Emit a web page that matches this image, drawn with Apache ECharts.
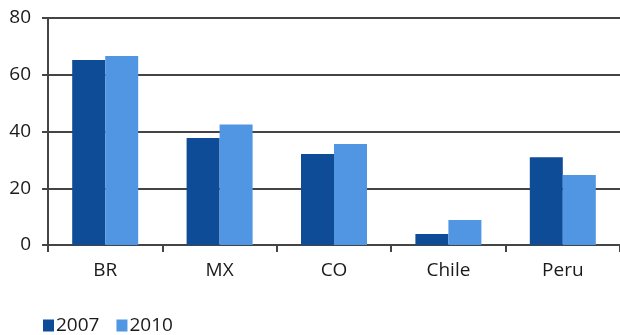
<!DOCTYPE html>
<html>
<head>
<meta charset="utf-8">
<script src="https://cdn.jsdelivr.net/npm/echarts@6/dist/echarts.min.js"></script>
<style>html,body{margin:0;padding:0;background:#fff}#c{width:620px;height:335px}</style>
</head>
<body>
<div id="c"></div>
<script>
var categories = ['BR', 'MX', 'CO', 'Chile', 'Peru'];
var values2007 = [65.2, 37.7, 32.1, 3.9, 30.9];
var values2010 = [66.6, 42.5, 35.6, 8.8, 24.7];
var seriesNames = ['2007', '2010'];
var yTicks = [0, 20, 40, 60, 80];

var FONT = 'Open Sans';
var chart = echarts.init(document.getElementById('c'), null, {renderer: 'canvas'});
chart.setOption({
  animation: false,
  textStyle: {fontFamily: FONT},
  grid: {left: 48, top: 18, right: -2, bottom: 90, containLabel: false},
  legend: {
    data: seriesNames,
    left: 38, top: 311,
    itemWidth: 11, itemHeight: 12, itemGap: 17,
    icon: 'rect',
    textStyle: {fontFamily: FONT, fontSize: 19, color: '#1a1a1a', padding: [0, 0, 0, -3]}
  },
  xAxis: {
    type: 'category',
    data: categories,
    axisLine: {lineStyle: {color: '#444', width: 2}},
    axisTick: {show: true, length: 7, lineStyle: {color: '#444', width: 2}},
    axisLabel: {margin: 16, fontSize: 19, color: '#1a1a1a', fontFamily: FONT},
    splitLine: {show: false}
  },
  yAxis: {
    type: 'value',
    min: yTicks[0], max: yTicks[yTicks.length - 1], interval: 20,
    axisLine: {show: true, lineStyle: {color: '#444', width: 2}},
    axisTick: {show: true, length: 6, lineStyle: {color: '#444', width: 2}},
    axisLabel: {margin: 17, fontSize: 19, color: '#1a1a1a', fontFamily: FONT},
    splitLine: {show: true, lineStyle: {color: '#444', width: 2}}
  },
  series: [
    {name: seriesNames[0], type: 'bar', data: values2007, barWidth: 33, barGap: '0%',
     itemStyle: {color: '#0E4C97'}},
    {name: seriesNames[1], type: 'bar', data: values2010, barWidth: 33, barGap: '0%',
     itemStyle: {color: '#5096E3'}}
  ]
});
</script>
</body>
</html>
